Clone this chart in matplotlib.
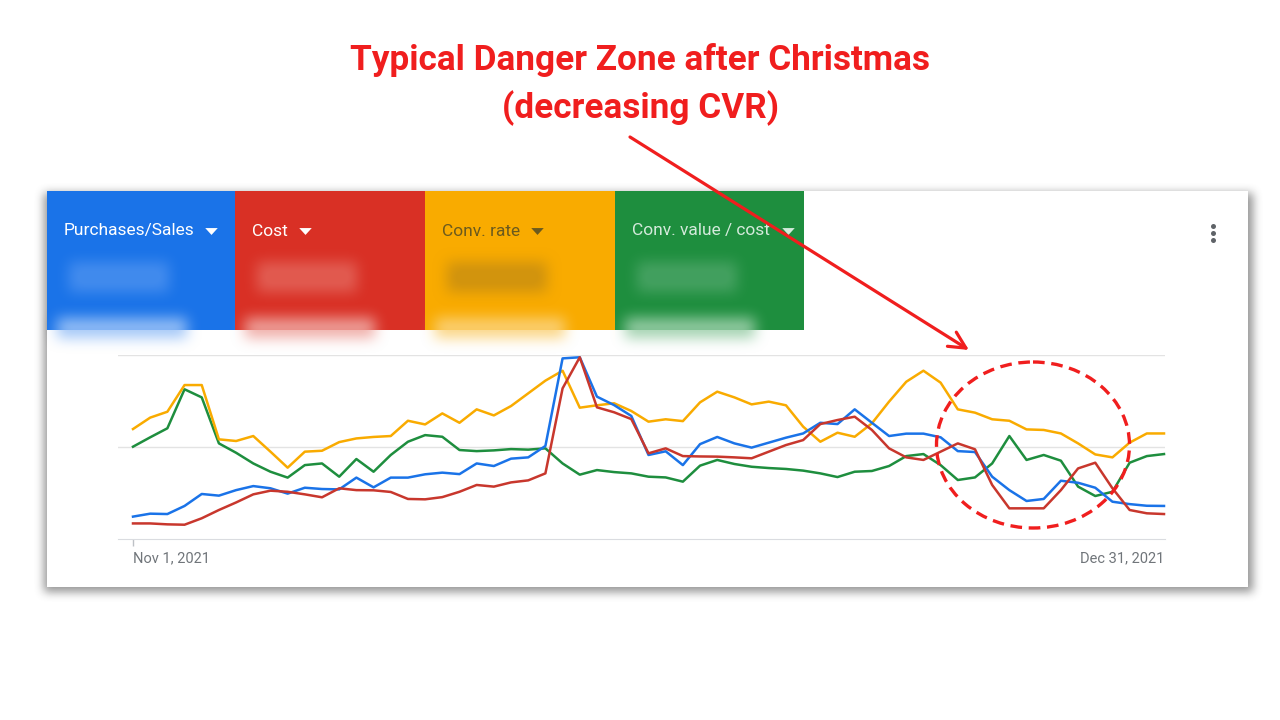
import numpy as np
import matplotlib
matplotlib.use('Agg')
import matplotlib.pyplot as plt
from matplotlib.patches import Rectangle, Ellipse

# normalised series (0 = bottom axis, 100 = top gridline), one value per day
days = list(range(61))  # Nov 1 .. Dec 31, 2021

purchases = [12.0, 13.6, 13.4, 17.8, 24.3, 23.4, 26.4, 28.6, 27.4, 24.5,
             27.7, 27.0, 26.8, 33.2, 27.9, 33.2, 33.2, 35.0, 35.9, 35.1,
             40.9, 39.5, 43.5, 44.2, 50.4, 98.0, 98.6, 77.2, 72.6, 66.7,
             45.5, 47.5, 40.0, 51.4, 55.3, 51.8, 49.5, 52.2, 54.9, 57.2,
             63.0, 62.3, 70.3, 63.0, 55.8, 57.1, 57.1, 55.1, 47.6, 47.1,
             33.7, 26.4, 20.5, 21.6, 31.5, 30.4, 27.7, 20.1, 18.8, 17.9, 17.8]

cost = [8.3, 8.3, 7.8, 7.6, 11.1, 15.6, 19.7, 24.1, 26.1, 25.5,
        24.1, 22.5, 27.4, 26.4, 26.3, 25.4, 21.6, 21.4, 22.6, 25.5,
        29.2, 28.3, 30.6, 31.7, 35.5, 81.7, 98.6, 71.4, 68.7, 65.0,
        46.4, 49.1, 44.9, 44.7, 44.6, 44.2, 43.7, 47.3, 50.9, 53.6,
        62.3, 64.5, 66.3, 59.1, 49.1, 44.2, 42.8, 47.3, 51.8, 48.6,
        29.2, 16.5, 16.5, 16.5, 26.4, 38.2, 41.3, 27.4, 15.6, 13.8, 13.4]

conv_rate = [59.6, 65.8, 69.0, 83.5, 83.5, 54.0, 53.1, 55.8, 47.3, 38.6,
             47.3, 47.8, 52.5, 54.5, 55.3, 55.8, 64.1, 62.1, 68.1, 63.0,
             70.3, 67.0, 72.1, 79.0, 85.9, 91.3, 71.2, 72.5, 73.6, 69.4,
             63.6, 64.9, 63.9, 74.1, 79.9, 76.8, 73.0, 74.5, 72.5, 60.9,
             52.7, 57.6, 55.4, 62.7, 74.5, 85.3, 91.3, 84.8, 70.3, 68.5,
             64.9, 64.1, 59.4, 59.1, 57.2, 51.8, 45.8, 44.2, 52.2, 57.2, 57.2]

roas = [50.0, 55.1, 60.0, 81.2, 76.8, 51.8, 46.7, 40.9, 36.4, 33.2,
        40.0, 40.9, 33.7, 43.3, 36.4, 45.5, 52.7, 56.3, 55.4, 48.2,
        47.6, 48.0, 48.7, 48.4, 49.1, 40.9, 34.8, 37.3, 36.2, 35.5,
        33.7, 33.3, 31.0, 39.7, 42.8, 40.6, 39.1, 38.4, 37.9, 37.0,
        35.5, 33.5, 36.4, 36.8, 39.5, 44.9, 46.0, 40.0, 31.9, 33.3,
        40.9, 55.8, 42.8, 45.5, 42.4, 28.3, 23.2, 25.5, 41.3, 44.9, 46.0]

tile_labels = ['Purchases/Sales', 'Cost', 'Conv. rate', 'Conv. value / cost']
tile_colors = ['#1a73e8', '#d93025', '#f9ab00', '#1e8e3e']
tile_text_colors = ['#ffffff', '#ffffff', '#6b5a1e', '#d4eadb']
blob_top = ['#4d92f0', '#e4675d', '#c68d12', '#4ea669']
blob_bottom = ['#9cc3f7', '#efa8a2', '#fbd27a', '#9ccfaa']
line_colors = ['#1a73e8', '#c8372d', '#f9ab00', '#1e8e3e']
x_labels = ['Nov 1, 2021', 'Dec 31, 2021']

title1 = 'Typical Danger Zone after Christmas'
title2 = '(decreasing CVR)'
red = '#f01e1e'

plt.rcParams['font.family'] = ['Roboto', 'DejaVu Sans']


def box1d(a, r, axis):
    a = np.moveaxis(a, axis, 0)
    p = np.pad(a, [(r + 1, r)] + [(0, 0)] * (a.ndim - 1), mode='edge')
    c = np.cumsum(p, axis=0)
    out = (c[2 * r + 1:] - c[:-2 * r - 1]) / (2 * r + 1)
    return np.moveaxis(out, 0, axis)


def blur(a, r, n=3):
    for _ in range(n):
        a = box1d(box1d(a, r, 0), r, 1)
    return a


W, H = 1280, 720
fig = plt.figure(figsize=(12.8, 7.2), dpi=100)
fig.patch.set_facecolor('white')

ax_bg = fig.add_axes([0, 0, 1, 1])
ax_bg.set_xlim(0, W)
ax_bg.set_ylim(H, 0)
ax_bg.axis('off')

# card shadow
mask = np.zeros((H, W))
mask[193:592, 44:1253] = 1.0
mask = blur(mask, 4)
shadow = np.zeros((H, W, 4))
shadow[..., :3] = 0.3
shadow[..., 3] = mask * 0.6
ax_bg.imshow(shadow, extent=(0, W, H, 0), aspect='auto', zorder=0, interpolation='bilinear')

card_l, card_t, card_r, card_b = 47, 191, 1248, 587
ax_bg.add_patch(Rectangle((card_l, card_t), card_r - card_l, card_b - card_t,
                          fc='white', ec='none', zorder=1))

# metric tiles
tile_x = [47, 235, 425, 615, 804]
arrow_x = [211, 305, 537, 788]
tile_t, tile_b = 191, 330
caret = [(-1, 0.55), (1, 0.55), (0, -0.55)]
rgb_top = np.zeros((H, W, 3))
rgb_bot = np.zeros((H, W, 3))
m_top = np.zeros((H, W))
m_bot = np.zeros((H, W))
for i, c in enumerate(tile_colors):
    x0, x1 = tile_x[i], tile_x[i + 1]
    ax_bg.add_patch(Rectangle((x0, tile_t), x1 - x0, tile_b - tile_t,
                              fc=c, ec='none', zorder=2))
    rgb_top[:, x0:x1] = matplotlib.colors.to_rgb(blob_top[i])
    rgb_bot[:, x0:x1] = matplotlib.colors.to_rgb(blob_bottom[i])
    m_top[262:292, x0 + 22:x0 + 122] = 1.0
    m_bot[318:338, x0 + 10:x0 + 140] = 1.0
    ax_bg.text(x0 + 17, 231, tile_labels[i], color=tile_text_colors[i],
               fontsize=12.5, ha='left', va='center', zorder=4)
    ax_bg.plot(arrow_x[i], 231, marker=caret, ms=9, mew=0,
               color=tile_text_colors[i], zorder=4)

m_top = blur(m_top, 6)
m_bot = blur(m_bot, 6)
over_top = np.dstack([rgb_top, np.clip(m_top * 1.1, 0, 1) * 0.75])
over_bot = np.dstack([rgb_bot, np.clip(m_bot * 1.1, 0, 1) * 0.85])
ax_bg.imshow(over_top, extent=(0, W, H, 0), aspect='auto', zorder=3, interpolation='bilinear')
ax_bg.imshow(over_bot, extent=(0, W, H, 0), aspect='auto', zorder=3, interpolation='bilinear')

# kebab menu
ax_bg.plot([1213, 1213, 1213], [226, 233, 240], 'o', ms=3.6, mew=0, color='#5f6368', zorder=4)

# chart
px_day = (1164 - 133) / 60
ax = fig.add_axes([118 / W, 1 - 538.7 / H, 1047 / W, 184 / H], zorder=2)
ax.patch.set_alpha(0)
ax.set_xlim(-15 / px_day, 60 + 1 / px_day)
ax.set_ylim(0, 100)

for series, c in zip([roas, conv_rate, purchases, cost],
                     [line_colors[3], line_colors[2], line_colors[0], line_colors[1]]):
    ax.plot(days, series, color=c, lw=1.8, solid_joinstyle='round', clip_on=False)

for s in ['top', 'left', 'right']:
    ax.spines[s].set_visible(False)
ax.spines['bottom'].set_color('#dadce0')
ax.set_yticks([50, 100])
ax.set_yticklabels([])
ax.tick_params(axis='y', length=0)
ax.grid(axis='y', color='#e3e3e3', lw=1)
ax.set_xticks([0])
ax.set_xticklabels([])
ax.tick_params(axis='x', length=5, color='#bdc1c6', width=1)
ax.text(0, -0.108, x_labels[0], transform=ax.get_xaxis_transform(), ha='left', va='center',
        fontsize=10.5, color='#70757a')
ax.text(60, -0.108, x_labels[1], transform=ax.get_xaxis_transform(), ha='right', va='center',
        fontsize=10.5, color='#70757a')

# annotation overlay
ax_top = fig.add_axes([0, 0, 1, 1], zorder=3)
ax_top.patch.set_alpha(0)
ax_top.set_xlim(0, W)
ax_top.set_ylim(H, 0)
ax_top.axis('off')

ax_top.text(640, 70, title1, ha='center', va='baseline', fontsize=25.3,
            fontweight='bold', color=red)
ax_top.text(640, 118, title2, ha='center', va='baseline', fontsize=25.3,
            fontweight='bold', color=red)
ax_top.annotate('', xy=(969, 350), xytext=(630, 137),
                arrowprops=dict(arrowstyle='->', color=red, lw=2.3,
                                mutation_scale=30, shrinkA=0, shrinkB=0))
ax_top.add_patch(Ellipse((1033, 445), 193, 166, fill=False, ec=red, lw=2.4,
                         ls=(0, (3.5, 2))))

fig.savefig('out.png', dpi=100, facecolor='white')
